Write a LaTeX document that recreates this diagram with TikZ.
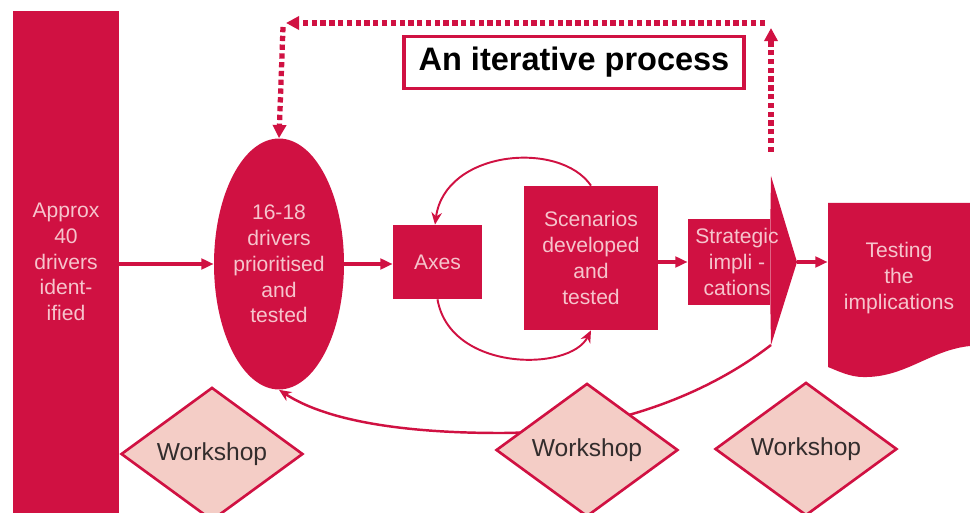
\documentclass[tikz,border=0pt]{standalone}
\usepackage{fontspec}
\setmainfont{Liberation Sans}
\usetikzlibrary{arrows.meta}
\usetikzlibrary{shapes.geometric}
\usetikzlibrary{positioning}
\definecolor{crimson}{RGB}{208,17,66}
\definecolor{blush}{RGB}{244,205,198}
\definecolor{paletext}{RGB}{246,196,204}
\definecolor{shoptext}{RGB}{51,45,45}

\begin{document}
\begin{tikzpicture}[x=0.02cm,y=-0.02cm,>={Triangle[length=7pt,width=6pt]},
    box node/.style={rectangle,fill=crimson,text=paletext,align=center,inner sep=0pt,font=\fontsize{12}{14.7}\selectfont},
    oval node/.style={ellipse,fill=crimson,text=paletext,align=center,inner sep=0pt,font=\fontsize{12}{14.7}\selectfont},
    shop node/.style={diamond,draw=crimson,line width=1.5pt,fill=blush,text=shoptext,inner sep=0pt,minimum width=3.64cm,minimum height=2.4cm,font=\fontsize{14}{16}\selectfont},
    flow/.style={->,line width=1.8pt,draw=crimson},
    loop/.style={-{Stealth[length=7pt,width=6pt]},line width=1.1pt,draw=crimson},
    dots/.style={-{Triangle[length=7.5pt,width=7.5pt]},line width=3pt,draw=crimson,dash pattern=on 3pt off 2pt}]
   \useasboundingbox (0,0) rectangle (970,513);
   % main row
   \node[box node,minimum width=2.12cm,minimum height=10.06cm] (bar) at (66,262) {Approx\\40\\drivers\\ident-\\ified};
   \node[oval node,minimum width=2.6cm,minimum height=5.02cm] (ell) at (279,264) {16-18\\drivers\\prioritised\\and\\tested};
   \node[box node,minimum width=1.78cm,minimum height=1.48cm] (axes) at (437.5,262) {Axes};
   \node[box node,minimum width=2.68cm,minimum height=2.88cm] (scen) at (591,258) {Scenarios\\developed\\and\\tested};
   \node[box node,minimum width=1.64cm,minimum height=1.72cm] (strat) at (729,262) {};
   \coordinate (stop) at (771,176);
   \coordinate (stip) at (797,262);
   \coordinate (sbot) at (771,345);
   \fill[crimson] (strat.north east) -- (stop) -- (stip) -- (sbot) -- (strat.south east) -- cycle;
   \node[align=center,text=paletext,font=\fontsize{12}{14.7}\selectfont,inner sep=0pt] (strat label) at (737,262) {Strategic\\impli -\\cations};
   \fill[crimson] (828,203) -- (970,203) -- (970,346) .. controls (930,350) and (905,378) .. (863,377)
      .. controls (850,377) and (838,371) .. (828,367) -- cycle;
   \node[align=center,text=paletext,font=\fontsize{12}{14.7}\selectfont,minimum width=2.84cm,inner sep=0pt] (test) at (899,278) {Testing\\the\\implications};
   % title
   \node[draw=crimson,line width=1.8pt,minimum width=6.8cm,minimum height=1.04cm,inner sep=0pt,font=\fontsize{18.5}{20}\selectfont\bfseries] (title) at (574,62.5) {An iterative process};
   % straight links
   \draw[flow] (bar.east |- ell) -- (ell.west);
   \draw[flow] (ell.east) -- (axes.west |- ell.east);
   \draw[flow] (scen.east |- stip) -- (strat.west |- stip);
   \draw[flow] (stip) -- (stip -| test.west);
   % loop round the axes
   \draw[loop] (scen.north) .. controls (560,140) and (445,150) .. ([xshift=-0.05cm]axes.north);
   \draw[loop] (axes.south) .. controls (450,372) and (570,372) .. (scen.south);
   % feedback
   \coordinate (fmid) at (500,433);
   \draw[loop,line width=1.4pt] (sbot) .. controls (700,400) and (600,433) .. (fmid)
      .. controls (400,433) and (325,420) .. (ell.south);
   % the iteration
   \coordinate (tl) at (283,23);
   \coordinate (tr) at (765,23);
   \draw[dots] (771,152) -- (771,28);
   \draw[dots] (tr) -- (286,23);
   \draw[dots] (283,27) -- (ell.north);
   % workshops
   \node[shop node] (shop1) at (212,454) {Workshop};
   \node[shop node] (shop2) at (587,450) {Workshop};
   \node[shop node] (shop3) at (806,449) {Workshop};
\end{tikzpicture}
\end{document}
